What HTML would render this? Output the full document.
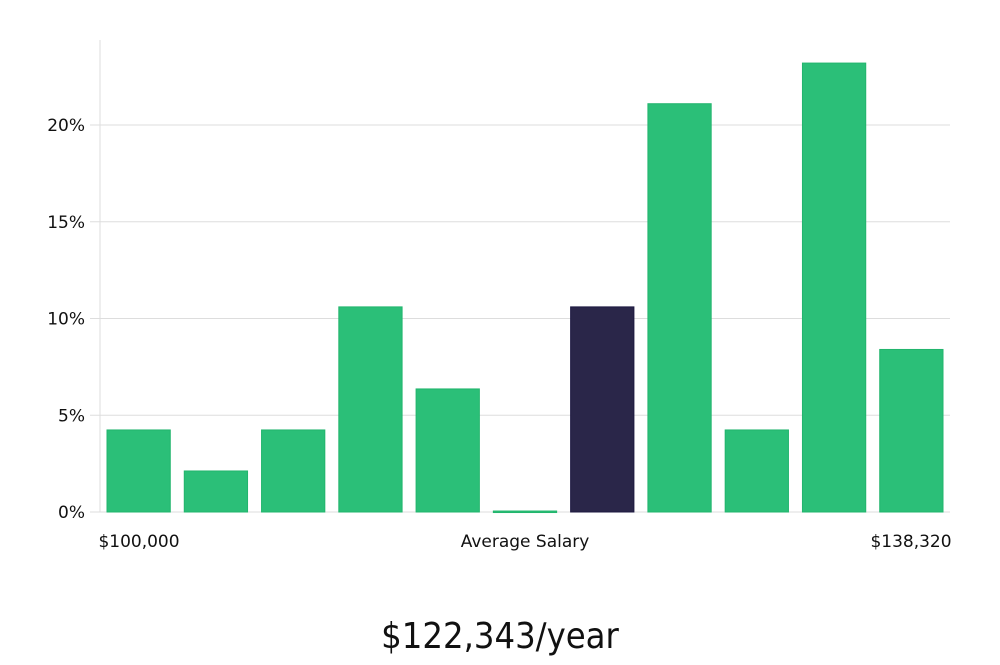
<!DOCTYPE html>
<html><head><meta charset="utf-8"><style>
body{margin:0;background:#fff;width:1000px;height:660px;overflow:hidden}
svg text{font-family:"DejaVu Sans","Liberation Sans",sans-serif}
</style></head><body>
<svg id="chart" width="1000" height="660" xmlns="http://www.w3.org/2000/svg">
<g id="grid"></g><g id="bars"></g><g id="labels"></g>
<text x="500" y="648" text-anchor="middle" font-size="36" fill="#111" style="font-family:'DejaVu Sans Condensed','DejaVu Sans',sans-serif;font-weight:300">$122,343/year</text>
</svg>
<script>
const binValues = [4.24, 2.12, 4.24, 10.6, 6.36, 0.05, 10.6, 21.1, 4.24, 23.2, 8.4];
const highlightIndex = 6;
const yTicks = [0, 5, 10, 15, 20];
const xLabels = ["$100,000", "Average Salary", "$138,320"];
const NS = "http://www.w3.org/2000/svg";
const x0 = 100, x1 = 950, y0 = 512, yTop = 125, yTopVal = 20;
const yScale = v => y0 - (v / yTopVal) * (y0 - yTop);
const slot = (x1 - x0) / binValues.length;
const xScale = i => x0 + i * slot;
function mk(tag, attrs, parent) { const e = document.createElementNS(NS, tag); for (const k in attrs) e.setAttribute(k, attrs[k]); parent.appendChild(e); return e; }
const grid = document.getElementById('grid'), bars = document.getElementById('bars'), labels = document.getElementById('labels');
let ax = mk('line', {x1: x0, x2: x0, y1: 40, y2: y0, stroke: '#ddd'}, grid);


yTicks.forEach(t => {
  const y = yScale(t);
  const g = mk('line', {x1: x0 - 10, x2: x1, y1: y, y2: y, stroke: '#ddd'}, grid);
  
  
  const tx = mk('text', {x: 85, y: y + 6, 'text-anchor': 'end', 'font-size': 17, fill: '#111'}, labels);
  tx.textContent = t + '%';
  
  
});
binValues.forEach((v, i) => {
  const y = yScale(v);
  const r = mk('rect', {x: xScale(i) + 7, y: y, width: slot - 14, height: Math.max(1.5, y0 - y),
    fill: i === highlightIndex ? '#2a2649' : '#2bbf78', stroke: i === highlightIndex ? '#1c1840' : '#22b56d', 'stroke-width': 1}, bars);
  
  
});
const xl = [[139, 'middle'], [525, 'middle'], [911, 'middle']];
xLabels.forEach((s, i) => {
  const t = mk('text', {x: xl[i][0], y: 547, 'text-anchor': xl[i][1], 'font-size': 17, fill: '#111'}, labels);
  t.textContent = s;
  
  
});
</script>
</body></html>
